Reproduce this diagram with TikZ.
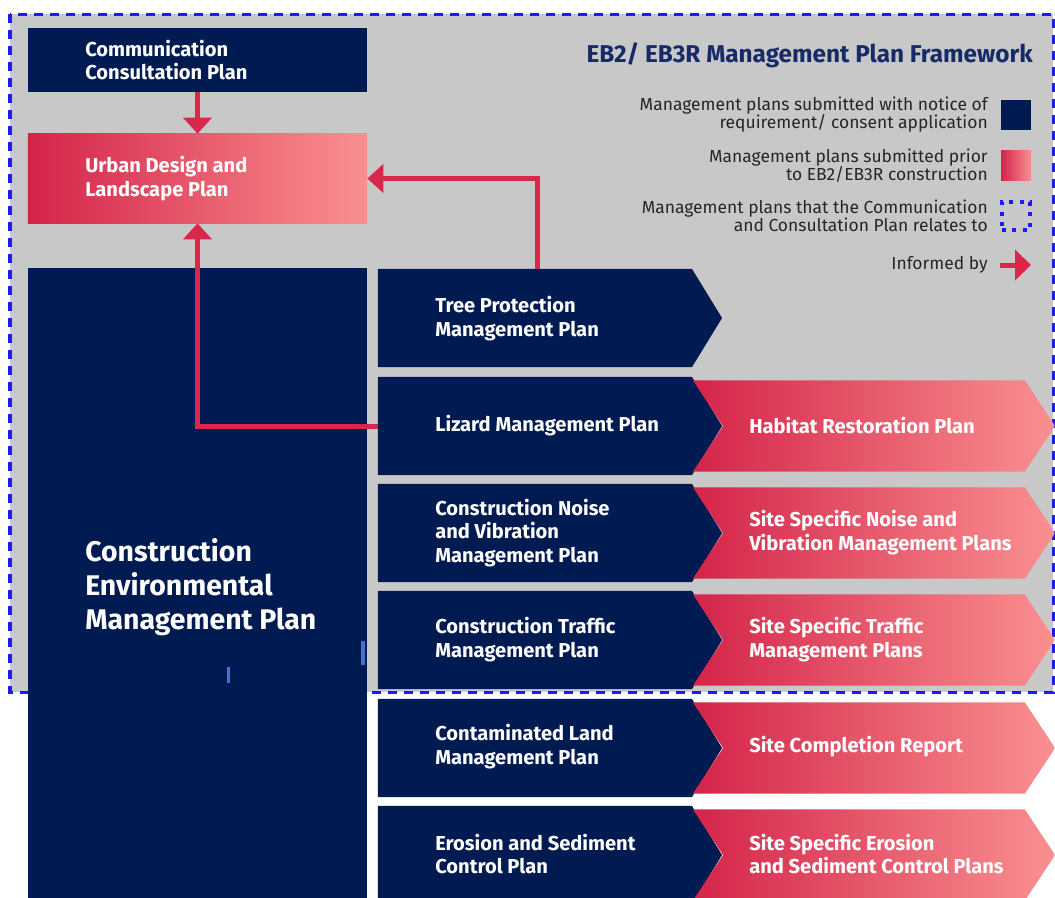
\documentclass[tikz,border=0pt]{standalone}
\usepackage{fontspec}
\setmainfont{Fira Sans}
\usetikzlibrary{positioning, arrows.meta, shapes.symbols}
\tikzset{>=Triangle}
\definecolor{navy}{RGB}{0,27,82}
\definecolor{planred}{RGB}{212,36,74}
\definecolor{planmid}{RGB}{224,62,92}
\definecolor{planpink}{RGB}{250,144,144}
\definecolor{panelgray}{RGB}{200,200,200}
\definecolor{dashblue}{RGB}{28,28,240}
\definecolor{arrowred}{RGB}{218,38,74}
\definecolor{legendtext}{RGB}{38,38,38}
\definecolor{titleblue}{RGB}{22,42,104}
\definecolor{tickblue}{RGB}{72,112,212}

\begin{document}
\begin{tikzpicture}
    [
        x=0.025cm, y=-0.025cm,
        navy_box/.style={rectangle, fill=navy, inner sep=0pt, minimum width=8.475cm},
        red_box/.style={rectangle, left color=planred, middle color=planmid, right color=planpink, inner sep=0pt, minimum width=8.475cm},
        navy_chevron/.style={signal, signal to=east, signal pointer angle=117, fill=navy, inner sep=0pt, minimum width=8.6cm, minimum height=2.45cm},
        red_chevron/.style={signal, signal to=east, signal from=west, signal pointer angle=113, left color=planred, middle color=planmid, right color=planpink, inner sep=0pt, minimum width=9.05cm, minimum height=2.275cm},
        box_text/.style={anchor=west, align=left, text=white, inner sep=0pt, font=\fontsize{14.3}{17}\selectfont\bfseries},
        legend_text/.style={anchor=east, align=right, text=legendtext, inner sep=0pt, font=\fontsize{12.4}{12.8}\selectfont},
        legend_key/.style={rectangle, inner sep=0pt, minimum size=0.75cm},
        informed/.style={draw=arrowred, line width=0.125cm, -{Triangle[width=0.7cm, length=0.4cm]}},
    ]

  \useasboundingbox (0,0) rectangle (1055,897);
  \fill[white] (0,0) rectangle (1055,897);

  % panel the Communication and Consultation Plan relates to
  \fill[panelgray] (10,14) rectangle (1053,692);
  \draw[dashblue, line width=0.075cm, dash pattern=on 0.225cm off 0.175cm] (10,14) rectangle (1053,692);

  % left column
  \node[navy_box, minimum height=1.6cm] (comm) at (197.5,60) {};
  \node[box_text] (comm_txt) at (85,60) {Communication\\Consultation Plan};
  \node[red_box, minimum height=2.225cm] (urban) at (197.5,178.5) {};
  \node[box_text] (urban_txt) at (85,179) {Urban Design and\\Landscape Plan};
  \node[navy_box, minimum height=15.925cm] (cemp) at (197.5,586.5) {};
  \node[box_text, font=\fontsize{20.2}{24.2}\selectfont\bfseries] (cemp_txt) at (85,587) {Construction\\Environmental\\Management Plan};
  \draw[tickblue, line width=0.075cm] (228,667) -- (228,683);
  \draw[tickblue, line width=0.1cm] (363,641) -- (363,665);

  % management plans
  \node[navy_chevron] (tree) at (535,318) {};
  \node[box_text] (tree_txt) at (435,319) {Tree Protection\\Management Plan};
  \node[navy_chevron] (lizard) at (535,426) {};
  \node[box_text] (lizard_txt) at (435,426) {Lizard Management Plan};
  \node[navy_chevron] (noise) at (535,533) {};
  \node[box_text] (noise_txt) at (435,533) {Construction Noise\\and Vibration\\Management Plan};
  \node[navy_chevron] (traffic) at (535,640) {};
  \node[box_text] (traffic_txt) at (435,640) {Construction Traffic\\Management Plan};
  \node[navy_chevron] (contam) at (535,748) {};
  \node[box_text] (contam_txt) at (435,747) {Contaminated Land\\Management Plan};
  \node[navy_chevron] (erosion) at (535,855) {};
  \node[box_text] (erosion_txt) at (435,854) {Erosion and Sediment\\Control Plan};

  % site specific plans
  \node[red_chevron] (habitat) at (874,426) {};
  \node[box_text] (habitat_txt) at (749,426) {Habitat Restoration Plan};
  \node[red_chevron] (site_noise) at (874,533) {};
  \node[box_text] (site_noise_txt) at (749,533) {Site Specific Noise and\\Vibration Management Plans};
  \node[red_chevron] (site_traffic) at (874,640) {};
  \node[box_text] (site_traffic_txt) at (749,640) {Site Specific Traffic\\Management Plans};
  \node[red_chevron] (completion) at (874,748) {};
  \node[box_text] (completion_txt) at (749,747) {Site Completion Report};
  \node[red_chevron] (site_erosion) at (874,855) {};
  \node[box_text] (site_erosion_txt) at (749,854) {Site Specific Erosion\\and Sediment Control Plans};

  % informed by
  \draw[informed] (comm) -- (urban);
  \draw[informed] ([xshift=0.05cm]tree.north) |- (urban.east);
  \draw[informed] (lizard.west) -| (urban.south);

  % legend
  \node[anchor=east, inner sep=0pt, text=titleblue, font=\fontsize{17.3}{20}\selectfont\bfseries] (title) at (1033,55) {EB2/ EB3R Management Plan Framework};
  \node[legend_text] (key_navy_txt) at (988,115) {Management plans submitted with notice of\\requirement/ consent application};
  \node[legend_key, fill=navy] (key_navy) at (1016,115) {};
  \node[legend_text] (key_red_txt) at (988,166) {Management plans submitted prior\\to EB2/EB3R construction};
  \node[legend_key, left color=planred, right color=planpink] (key_red) at (1016,165) {};
  \node[legend_text] (key_dash_txt) at (988,216) {Management plans that the Communication\\and Consultation Plan relates to};
  \node[legend_key, minimum size=0.7cm, draw=dashblue, line width=0.08cm, dash pattern=on 0.1cm off 0.16cm] (key_dash) at (1016,216) {};
  \node[legend_text] (key_arrow_txt) at (988,265) {Informed by};
  \coordinate (key_arrow_a) at (1000,265);
  \coordinate (key_arrow_b) at (1031,265);
  \draw[informed, -{Triangle[width=0.75cm, length=0.4cm]}] (key_arrow_a) -- (key_arrow_b);
\end{tikzpicture}
\end{document}
